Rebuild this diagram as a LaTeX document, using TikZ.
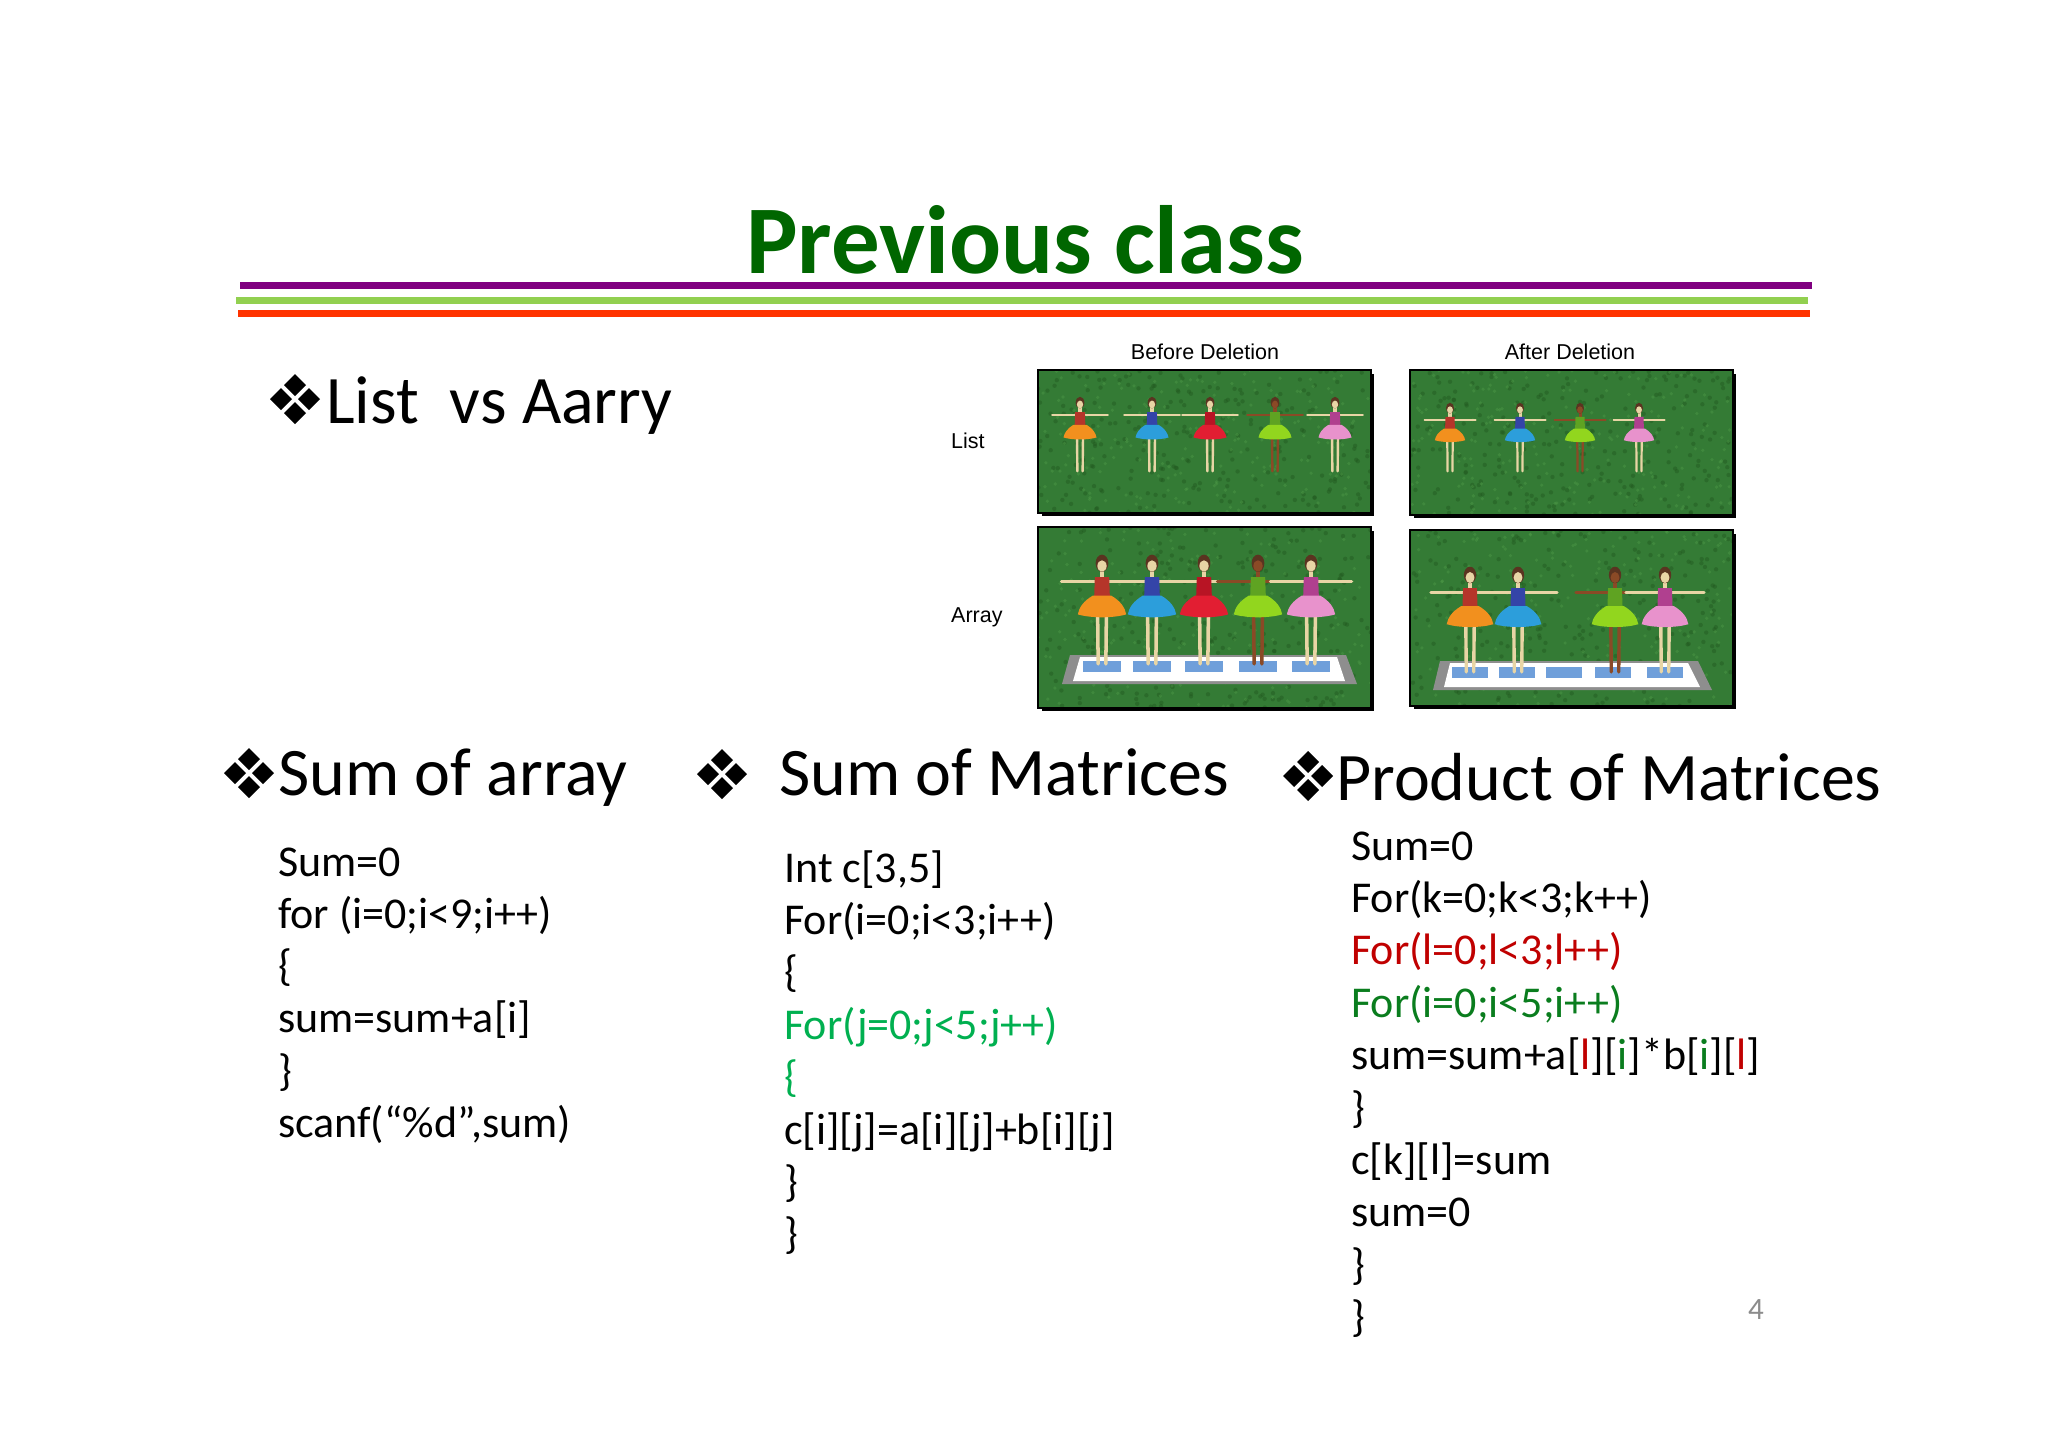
\documentclass[tikz,border=0pt]{standalone}
\usepackage{fontspec}
\setmainfont{Carlito}
\newfontfamily\arialf{Liberation Sans}
\definecolor{titlegreen}{HTML}{006600}
\definecolor{linepurple}{HTML}{800080}
\definecolor{linegreen}{HTML}{92D050}
\definecolor{linered}{HTML}{FF3300}
\definecolor{cgreen}{HTML}{00B050}
\definecolor{pred}{HTML}{C00000}
\definecolor{pgreen}{HTML}{0A7D1E}
\definecolor{grass}{HTML}{347B35}
\definecolor{grassdark}{HTML}{22591F}
\definecolor{grasslight}{HTML}{4E9A47}
\definecolor{skin}{HTML}{E8D5A5}
\definecolor{darkskin}{HTML}{8A4A26}
\definecolor{hair}{HTML}{5A3420}
\definecolor{tuorange}{HTML}{F2901E}
\definecolor{boorange}{HTML}{B5352A}
\definecolor{tublue}{HTML}{2C9EDB}
\definecolor{boblue}{HTML}{3444A8}
\definecolor{tured}{HTML}{E21E32}
\definecolor{bored}{HTML}{B81424}
\definecolor{tulime}{HTML}{92D61E}
\definecolor{bolime}{HTML}{5FA322}
\definecolor{tupink}{HTML}{E892CC}
\definecolor{bopink}{HTML}{B0408F}
\definecolor{tile}{HTML}{6F9FDA}
\definecolor{slab}{HTML}{8E8E8E}
\tikzset{
  code/.style={anchor=base west, inner sep=0pt, font=\fontsize{44}{52}\selectfont},
  head/.style={anchor=base west, inner sep=0pt, font=\fontsize{68}{80}\selectfont},
  lbl/.style={inner sep=0pt, font=\arialf\fontsize{21.5}{26}\selectfont},
  rule/.style={line width=7pt},
  dia/.pic={\foreach \a/\b in {0/-14,0/14,-14/0,14/0}{\fill (\a,\b) ++(0,-11) -- ++(11,11) -- ++(-11,11) -- ++(-11,-11) -- cycle;}}
}
% x, ytop, h, tutu, bodice, skin
\newcommand\dancer[6]{%
\begin{scope}[shift={(#1,#2)}, x=#3pt, y=-#3pt]
 \draw[#6, line width=0.028*#3pt, line cap=round] (-0.37,0.245) -- (0.37,0.245);
 \draw[#6, line width=0.032*#3pt, line cap=round] (-0.04,0.52) -- (-0.035,0.99) (0.04,0.52) -- (0.035,0.99);
 \fill[#6] (-0.022,0.12) rectangle (0.022,0.22);
 \fill[#5] (-0.065,0.2) -- (0.065,0.2) -- (0.072,0.40) -- (-0.072,0.40) -- cycle;
 \fill[#4] (-0.085,0.37) -- (0.085,0.37) .. controls (0.17,0.42) and (0.21,0.48) .. (0.22,0.54) .. controls (0.1,0.575) and (-0.1,0.575) .. (-0.22,0.54) .. controls (-0.21,0.48) and (-0.17,0.42) .. (-0.085,0.37) -- cycle;
 \fill[hair] (0,0.075) ellipse [x radius=0.058, y radius=0.078];
 \fill[#6] (0,0.1) ellipse [x radius=0.042, y radius=0.052];
\end{scope}}
\newcommand\grassbox[4]{%
\begin{scope}
 \clip (#1,#2) rectangle (#3,#4);
 \fill[grass] (#1,#2) rectangle (#3,#4);
 \foreach \i in {1,...,260}{\fill[grassdark, opacity=0.45] ({#1+rnd*(#3-#1)},{#2+rnd*(#4-#2)}) circle (2.2);}
 \foreach \i in {1,...,200}{\fill[grasslight, opacity=0.45] ({#1+rnd*(#3-#1)},{#2+rnd*(#4-#2)}) circle (1.8);}
\end{scope}}
\newcommand\photoframe[4]{%
 \draw[black, line width=2pt] (#1,#2) rectangle (#3,#4);
 \fill[black] (#3-1,#2+4) rectangle (#3+3,#4+3);
 \fill[black] (#1+4,#4-1) rectangle (#3+3,#4+3);}
\begin{document}
\begin{tikzpicture}[x=1pt,y=-1pt]
\useasboundingbox (0,0) rectangle (2048,1448);
\fill[white] (0,0) rectangle (2048,1448);
\pgfmathsetseed{7}
% title
\node[anchor=base, inner sep=0pt, text=titlegreen, font=\bfseries\fontsize{97}{110}\selectfont] (title) at (1025,273) {Previous class};
\draw[rule, linepurple] (240,285) -- (1812,285);
\draw[rule, linegreen] (236,300.5) -- (1808,300.5);
\draw[rule, linered] (238,313) -- (1810,313);
% heading 1
\pic at (295,399) {dia};
\node[head] (h1) at (326,423) {List\ \ vs Aarry};
% photo labels
\node[lbl] (lbef) at (1205,352) {Before Deletion};
\node[lbl] (laft) at (1570,352) {After Deletion};
\node[lbl, anchor=west] (llist) at (951,441) {List};
\node[lbl, anchor=west] (larr) at (951,617) {Array};
% photos
\grassbox{1038}{370}{1371}{513}
\grassbox{1410}{370}{1733}{515}
\grassbox{1038}{527}{1371}{708}
\grassbox{1410}{530}{1733}{706}
% list before
\dancer{1080}{397}{75}{tuorange}{boorange}{skin}
\dancer{1152}{397}{75}{tublue}{boblue}{skin}
\dancer{1210}{397}{75}{tured}{bored}{skin}
\dancer{1275}{397}{75}{tulime}{bolime}{darkskin}
\dancer{1335}{397}{75}{tupink}{bopink}{skin}
% list after
\dancer{1450}{403}{69}{tuorange}{boorange}{skin}
\dancer{1520}{403}{69}{tublue}{boblue}{skin}
\dancer{1580}{403}{69}{tulime}{bolime}{darkskin}
\dancer{1639}{403}{69}{tupink}{bopink}{skin}
% array before: platform
\fill[slab] (1070,655) -- (1346,655) -- (1357,684) -- (1062,684) -- cycle;
\fill[white] (1080,657) -- (1337,657) -- (1345,681) -- (1073,681) -- cycle;
\foreach \tx in {1102,1152,1204,1258,1311}{\fill[tile] (\tx-19,661) rectangle (\tx+19,672);}
\dancer{1102}{555}{110}{tuorange}{boorange}{skin}
\dancer{1152}{555}{110}{tublue}{boblue}{skin}
\dancer{1204}{555}{110}{tured}{bored}{skin}
\dancer{1258}{555}{110}{tulime}{bolime}{darkskin}
\dancer{1311}{555}{110}{tupink}{bopink}{skin}
% array after: platform
\fill[slab] (1440,661) -- (1698,661) -- (1712,690) -- (1433,690) -- cycle;
\fill[white] (1450,663) -- (1688,663) -- (1700,687) -- (1444,687) -- cycle;
\foreach \tx in {1470,1517,1564,1613,1665}{\fill[tile] (\tx-18,667) rectangle (\tx+18,678);}
\dancer{1470}{567}{106}{tuorange}{boorange}{skin}
\dancer{1518}{567}{106}{tublue}{boblue}{skin}
\dancer{1615}{567}{106}{tulime}{bolime}{darkskin}
\dancer{1665}{567}{106}{tupink}{bopink}{skin}
% frames
\photoframe{1038}{370}{1371}{513}
\photoframe{1410}{370}{1733}{515}
\photoframe{1038}{527}{1371}{708}
\photoframe{1410}{530}{1733}{706}
% headings row 2
\pic at (249,773) {dia};
\node[head] (h2) at (278,795) {Sum of array};
\pic at (722,774) {dia};
\node[head] (h3) at (779,795) {Sum of Matrices};
\pic at (1308,776) {dia};
\node[head] (h4) at (1336,800) {Product of Matrices};
% code 1
\node[code] (a1) at (278,876) {Sum=0};
\node[code] (a2) at (278,928.3) {for (i=0;i<9;i++)};
\node[code] (a3) at (278,980.6) {\{};
\node[code] (a4) at (278,1032.9) {sum=sum+a[i]};
\node[code] (a5) at (278,1085.2) {\}};
\node[code] (a6) at (278,1137.5) {scanf(“\%d”,sum)};
% code 2
\node[code] (b1) at (784,882) {Int c[3,5]};
\node[code] (b2) at (784,934.4) {For(i=0;i<3;i++)};
\node[code] (b3) at (784,986.8) {\{};
\node[code, text=cgreen] (b4) at (784,1039.2) {For(j=0;j<5;j++)};
\node[code, text=cgreen] (b5) at (784,1091.6) {\{};
\node[code] (b6) at (784,1144) {c[i][j]=a[i][j]+b[i][j]};
\node[code] (b7) at (784,1196.4) {\}};
\node[code] (b8) at (784,1248.8) {\}};
% code 3
\node[code] (c1) at (1351,860) {Sum=0};
\node[code] (c2) at (1351,912.4) {For(k=0;k<3;k++)};
\node[code, text=pred] (c3) at (1351,964.8) {For(l=0;l<3;l++)};
\node[code, text=pgreen] (c4) at (1351,1017.2) {For(i=0;i<5;i++)};
\node[code] (c5) at (1351,1069.6) {sum=sum+a[\textcolor{pred}{l}][\textcolor{pgreen}{i}]*b[\textcolor{pgreen}{i}][\textcolor{pred}{l}]};
\node[code] (c6) at (1351,1122) {\}};
\node[code] (c7) at (1351,1174.4) {c[k][l]=sum};
\node[code] (c8) at (1351,1226.8) {sum=0};
\node[code] (c9) at (1351,1279.2) {\}};
\node[code] (c10) at (1351,1331.6) {\}};
% page number
\node[anchor=base, inner sep=0pt, text=black!45, font=\fontsize{31}{36}\selectfont] (pnum) at (1756,1319) {4};
\end{tikzpicture}
\end{document}
